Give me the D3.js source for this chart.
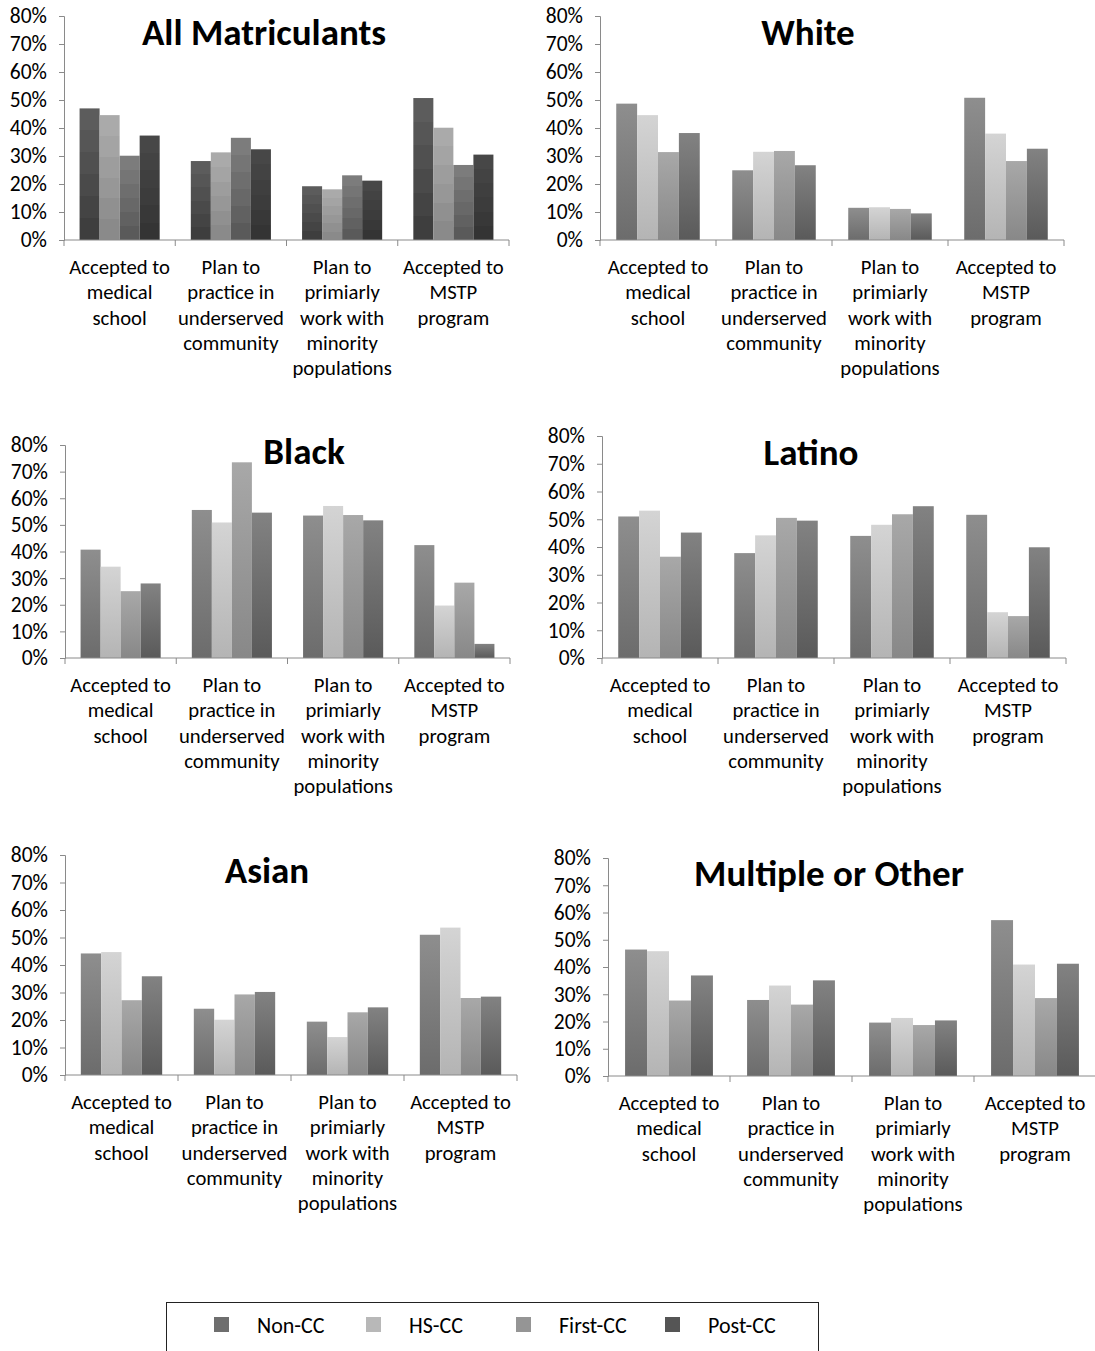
<!DOCTYPE html>
<html>
<head>
<meta charset="utf-8">
<script src="https://cdn.jsdelivr.net/npm/d3@7"></script>
<style>
  body { margin: 0; background: #fff; }
  svg text { font-family: Carlito, Calibri, Lato, sans-serif; fill: #000; }
</style>
</head>
<body>
<div id="chart"></div>
<script>
// categories (line broken as in the picture)
var categories = [
  ["Accepted to", "medical", "school"],
  ["Plan to", "practice in", "underserved", "community"],
  ["Plan to", "primiarly", "work with", "minority", "populations"],
  ["Accepted to", "MSTP", "program"]
];
var series = ["Non-CC", "HS-CC", "First-CC", "Post-CC"];
var yTicks = [0, 10, 20, 30, 40, 50, 60, 70, 80];

var titles = ["All Matriculants", "White", "Black", "Latino", "Asian", "Multiple or Other"];

// values in %, one row per category, columns follow series order
var allMatriculants = [[47.0, 44.6, 30.1, 37.3], [28.2, 31.3, 36.5, 32.4], [19.2, 18.1, 23.1, 21.2], [50.7, 40.1, 26.8, 30.5]];
var white = [[48.7, 44.6, 31.4, 38.2], [24.9, 31.5, 31.8, 26.7], [11.5, 11.7, 11.1, 9.5], [50.8, 38.0, 28.2, 32.6]];
var black = [[40.7, 34.3, 25.1, 28.0], [55.6, 50.9, 73.5, 54.6], [53.5, 57.1, 53.7, 51.7], [42.4, 19.7, 28.3, 5.3]];
var latino = [[51.0, 53.1, 36.5, 45.2], [37.8, 44.2, 50.5, 49.5], [44.0, 48.0, 51.8, 54.7], [51.6, 16.5, 15.1, 39.9]];
var asian = [[44.2, 44.7, 27.2, 35.9], [24.1, 20.1, 29.3, 30.2], [19.4, 13.8, 22.8, 24.6], [51.0, 53.6, 28.0, 28.5]];
var multipleOther = [[46.4, 45.8, 27.7, 36.9], [27.9, 33.2, 26.2, 35.1], [19.6, 21.3, 18.7, 20.4], [57.2, 40.9, 28.6, 41.2]];

var panelData = [allMatriculants, white, black, latino, asian, multipleOther];

// where each panel sits on the page
var layout = [
  {x0: 64,  x1: 509,  y0: 240,  yTop: 16,  tx: 264, ty: 32},
  {x0: 600, x1: 1064, y0: 240,  yTop: 16,  tx: 808, ty: 32},
  {x0: 65,  x1: 510,  y0: 658,  yTop: 445, tx: 304, ty: 451},
  {x0: 602, x1: 1066, y0: 658,  yTop: 436, tx: 811, ty: 452},
  {x0: 65,  x1: 517,  y0: 1075, yTop: 855, tx: 267, ty: 870},
  {x0: 608, x1: 1096, y0: 1076, yTop: 858, tx: 829, ty: 873}
];

// first panel uses darker banded fills, the others soft gradients
var darkFills = [["#5c5c5c", "#3e3e3e"], ["#aaaaaa", "#8a8a8a"], ["#7c7c7c", "#5a5a5a"], ["#474747", "#343434"]];
var softFills = [["#8e8e8e", "#6c6c6c"], ["#d4d4d4", "#b4b4b4"], ["#a8a8a8", "#888888"], ["#828282", "#5a5a5a"]];
var legendColors = ["#6e6e6e", "#b8b8b8", "#959595", "#555555"];

var svg = d3.select("#chart").append("svg")
  .attr("width", 1095)
  .attr("height", 1351);

var defs = svg.append("defs");
function makeGradient(id, stops, banded) {
  var g = defs.append("linearGradient")
    .attr("id", id)
    .attr("x1", 0).attr("y1", 0).attr("x2", 0).attr("y2", 1);
  if (banded) {
    var n = 6;
    var c = d3.interpolateRgb(stops[0], stops[1]);
    for (var i = 0; i < n; i++) {
      g.append("stop").attr("offset", i / n).attr("stop-color", c(i / (n - 1)));
      g.append("stop").attr("offset", (i + 1) / n).attr("stop-color", c(i / (n - 1)));
    }
  } else {
    g.append("stop").attr("offset", 0).attr("stop-color", stops[0]);
    g.append("stop").attr("offset", 1).attr("stop-color", stops[1]);
  }
}
series.forEach(function(s, i) {
  makeGradient("dark" + i, darkFills[i], true);
  makeGradient("soft" + i, softFills[i], false);
});

panelData.forEach(function(rows, p) {
  var L = layout[p];
  var g = svg.append("g");

  var x = d3.scaleBand()
    .domain(d3.range(categories.length))
    .range([L.x0, L.x1])
    .padding(0);
  var bw = x.bandwidth();
  var xs = d3.scaleBand()
    .domain(d3.range(series.length))
    .range([bw * 0.14, bw * 0.86])
    .padding(0);
  var y = d3.scaleLinear()
    .domain([0, 80])
    .range([L.y0, L.yTop]);

  // y axis
  var yAxis = d3.axisLeft(y)
    .tickValues(yTicks)
    .tickSize(5)
    .tickPadding(12)
    .tickFormat(function(d) { return d + "%"; });
  var ya = g.append("g")
    .attr("transform", "translate(" + L.x0 + ",0)")
    .call(yAxis);
  ya.select(".domain").attr("stroke", "#8a8a8a");
  ya.selectAll(".tick line").attr("stroke", "#8a8a8a");
  ya.selectAll("text")
    .style("font-size", "21.5px")
    .style("font-family", "Carlito, Calibri, Lato, sans-serif")
    .attr("fill", "#000");

  // bars
  rows.forEach(function(vals, c) {
    g.selectAll(null)
      .data(vals)
      .enter()
      .append("rect")
      .attr("x", function(d, i) { return x(c) + xs(i); })
      .attr("y", function(d) { return y(d); })
      .attr("width", xs.bandwidth())
      .attr("height", function(d) { return y(0) - y(d); })
      .attr("fill", function(d, i) { return "url(#" + (p === 0 ? "dark" : "soft") + i + ")"; });
  });

  // x axis line and boundary ticks
  g.append("line")
    .attr("x1", L.x0).attr("x2", L.x1)
    .attr("y1", L.y0).attr("y2", L.y0)
    .attr("stroke", "#8a8a8a");
  var bounds = d3.range(categories.length).map(function(c) { return x(c); }).concat([L.x1]);
  g.selectAll(null)
    .data(bounds)
    .enter()
    .append("line")
    .attr("x1", function(d) { return d; }).attr("x2", function(d) { return d; })
    .attr("y1", L.y0).attr("y2", L.y0 + 6)
    .attr("stroke", "#8a8a8a");

  // category labels
  categories.forEach(function(lines, c) {
    var t = g.append("text")
      .attr("text-anchor", "middle")
      .style("font-size", "20.7px");
    t.selectAll("tspan")
      .data(lines)
      .enter()
      .append("tspan")
      .attr("x", x(c) + bw / 2)
      .attr("y", function(d, i) { return L.y0 + 34 + i * 25.3; })
      .text(function(d) { return d; });
  });

  // title
  g.append("text")
    .attr("x", L.tx)
    .attr("y", L.ty)
    .attr("dy", "0.35em")
    .attr("text-anchor", "middle")
    .style("font-size", "37px")
    .style("font-weight", "bold")
    .text(titles[p]);
});

// legend
var legend = svg.append("g");
legend.append("rect")
  .attr("x", 166.5).attr("y", 1302.5)
  .attr("width", 652).attr("height", 60)
  .attr("fill", "none")
  .attr("stroke", "#222");
var legendX = [214, 366, 516, 665];
series.forEach(function(s, i) {
  legend.append("rect")
    .attr("x", legendX[i]).attr("y", 1317)
    .attr("width", 15).attr("height", 15)
    .attr("fill", legendColors[i]);
  legend.append("text")
    .attr("x", legendX[i] + 43)
    .attr("y", 1325)
    .attr("dy", "0.35em")
    .style("font-size", "22px")
    .text(s);
});
</script>
</body>
</html>
